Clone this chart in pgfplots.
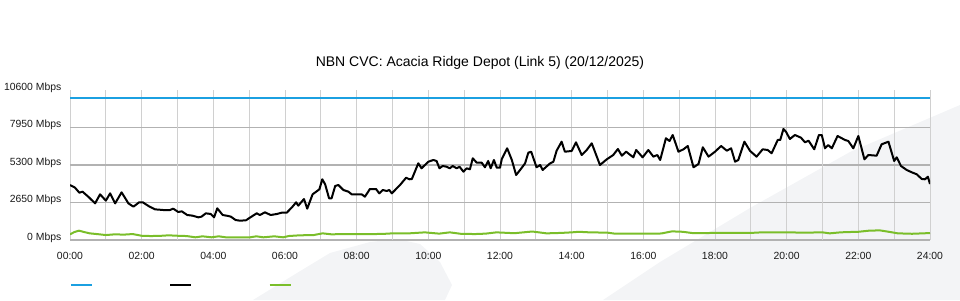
\documentclass[border=0pt]{standalone}
\usepackage{pgfplots}
\pgfplotsset{compat=1.18}
\usepackage{fontspec}
\setmainfont{Liberation Sans}
\definecolor{bluel}{RGB}{27,160,225}
\definecolor{greenl}{RGB}{122,190,42}
\definecolor{wm}{RGB}{243,244,246}
\definecolor{hgrid}{RGB}{178,178,178}
\definecolor{vgrid}{RGB}{208,208,208}
\definecolor{vgridd}{RGB}{165,165,165}

\begin{document}
\begin{tikzpicture}
\useasboundingbox (0,0) rectangle (720pt,225pt);
\begin{scope}[x=0.75pt,y=-0.75pt,yshift=225pt]
\fill[wm] (253,300) -- (297,273) -- (330,253) -- (370,242) -- (397,239) -- (420,244) -- (440,262) -- (452,285) -- (445,300) -- cycle;
\fill[wm] (603,300) -- (660,262) -- (750,208) -- (850,152) -- (960,105) -- (960,300) -- cycle;
\end{scope}
\begin{axis}[
  at={(52.5pt,45pt)}, anchor=south west,
  scale only axis, width=645pt, height=112.5pt,
  xmin=0, xmax=24, ymin=0, ymax=10600,
  scaled y ticks=false,
  axis line style={draw=none},
  xtick={0,2,...,24},
  xticklabels={00:00,02:00,04:00,06:00,08:00,10:00,12:00,14:00,16:00,18:00,20:00,22:00,24:00},
  minor xtick={1,3,...,23},
  xmajorgrids, xminorgrids,
  ytick={0,2650,5300,7950},
  yticklabels={0 Mbps,2650 Mbps,5300 Mbps,7950 Mbps},
  ymajorgrids,
  extra y ticks={10600},
  extra y tick labels={10600 Mbps},
  extra y tick style={grid=none},
  extra x ticks={3,9,15,21},
  extra x tick labels={},
  extra x tick style={grid=major, major grid style={vgridd, line width=1.2pt}},
  major tick length=0pt, minor tick length=0pt,
  x grid style={vgrid, line width=0.75pt},
  y grid style={hgrid, line width=1.3pt},
  tick label style={font=\fontsize{7.8pt}{9pt}\selectfont, text=black!90},
  yticklabel style={xshift=-3pt, yshift=2pt},
  xticklabel style={yshift=-5.5pt},
  title={NBN CVC: Acacia Ridge Depot (Link 5) (20/12/2025)},
  title style={at={(0.4767,1.1267)}, anchor=center, font=\fontsize{10.5pt}{12pt}\selectfont},
  legend columns=3,
  legend style={at={(axis description cs:0,-0.3)}, anchor=west, draw=none, fill=none,
    inner sep=0pt, outer sep=0pt, nodes={inner sep=0pt}, column sep=0pt,
    /tikz/every even column/.append style={column sep=56.25pt}},
  legend image code/.code={\draw[#1] (0pt,0pt) -- (15.75pt,0pt);},
  line join=round,
]
\addplot[bluel, line width=1.5pt] coordinates {(0,10000) (24,10000)};
\addlegendentry{\mbox{}}
\addplot[black, line width=1.5pt] coordinates {
(0,3887) (0.14,3700) (0.26,3343) (0.35,3414) (0.51,3060) (0.70,2590) (0.84,3228) (1.00,2780)
(1.12,3297) (1.26,2590) (1.44,3368) (1.63,2590) (1.77,2356) (1.93,2665) (2.03,2665) (2.19,2403)
(2.37,2167) (2.60,2120) (2.79,2120) (2.88,2214) (3.02,1979) (3.12,2026) (3.27,1767) (3.42,1720)
(3.58,1602) (3.67,1649) (3.79,1885) (3.93,1837) (4.02,1602) (4.11,2238) (4.26,1767) (4.42,1696)
(4.49,1649) (4.62,1413) (4.74,1366) (4.91,1390) (5.02,1578) (5.21,1885) (5.30,1767) (5.44,1955)
(5.60,1767) (5.77,1837) (5.91,1932) (6.05,1932) (6.21,2356) (6.31,2665) (6.37,2427) (6.53,2897)
(6.62,2214) (6.77,3228) (6.96,3581) (7.04,4290) (7.12,3935) (7.23,2946) (7.30,2946) (7.40,3816)
(7.49,3887) (7.63,3533) (7.77,3414) (7.86,3228) (8.14,3228) (8.23,3060) (8.37,3604) (8.54,3604)
(8.63,3297) (8.73,3533) (8.84,3463) (8.91,3533) (8.98,3297) (9.21,3887) (9.38,4403) (9.47,4290)
(9.54,4311) (9.72,5420) (9.81,5067) (10.0,5533) (10.14,5654) (10.23,5583) (10.31,5067) (10.40,5230)
(10.51,5180) (10.60,5067) (10.68,5230) (10.79,5067) (10.87,5180) (10.98,4827) (11.07,5067) (11.16,4996)
(11.24,5774) (11.35,5463) (11.49,5463) (11.58,5138) (11.67,5583) (11.74,5067) (11.83,5654) (11.91,5109)
(12.0,5109) (12.05,5724) (12.20,6480) (12.33,5654) (12.45,4594) (12.56,4947) (12.70,5420) (12.79,6170)
(12.87,6240) (13.02,5138) (13.12,5300) (13.19,4947) (13.40,5420) (13.49,5533) (13.58,6311) (13.72,6947)
(13.81,6240) (14.00,6290) (14.12,6904) (14.28,6007) (14.42,6360) (14.56,6834) (14.79,5300) (14.98,5703)
(15.16,6007) (15.29,6431) (15.40,5958) (15.52,6240) (15.72,5844) (15.80,6360) (15.98,5844) (16.14,6360)
(16.28,5890) (16.39,6007) (16.47,5654) (16.63,7187) (16.73,6996) (16.82,7420) (16.98,6240) (17.12,6410)
(17.24,6643) (17.40,5138) (17.54,5371) (17.66,6551) (17.82,5890) (18.0,6240) (18.17,6643) (18.33,6311)
(18.45,6480) (18.56,5533) (18.65,5654) (18.82,6947) (18.98,6290) (19.16,5890) (19.33,6410) (19.47,6360)
(19.58,6127) (19.75,7067) (19.82,7067) (19.91,7844) (19.98,7653) (20.09,7138) (20.23,7420) (20.40,7230)
(20.51,6904) (20.61,7017) (20.77,6410) (20.90,7420) (20.98,7420) (21.07,6480) (21.16,6713) (21.26,6480)
(21.42,7350) (21.63,7067) (21.72,6996) (21.86,6480) (22.0,7350) (22.17,5703) (22.28,6007) (22.51,5958)
(22.65,6763) (22.84,6947) (23.0,5583) (23.07,5844) (23.19,5230) (23.35,4947) (23.49,4784) (23.63,4643)
(23.77,4311) (23.86,4290) (23.94,4473) (24.0,3957)
};
\addlegendentry{\mbox{}}
\addplot[greenl, line width=1.5pt] coordinates {
(0,400) (0.12,560) (0.25,660) (0.4,560) (0.55,470) (0.75,420) (1.0,350) (1.25,400) (1.5,380)
(1.75,420) (2.0,300) (2.25,280) (2.5,290) (2.75,330) (3.0,300) (3.25,280) (3.5,190) (3.7,260)
(3.95,190) (4.15,260) (4.35,190) (4.6,180) (5.0,180) (5.2,260) (5.4,190) (5.7,260) (5.95,190)
(6.1,280) (6.4,330) (6.8,350) (7.05,470) (7.3,400) (7.6,420) (8.0,420) (8.5,420) (8.8,440)
(9.0,470) (9.4,460) (9.9,540) (10.3,450) (10.6,540) (10.9,440) (11.3,420) (11.6,450) (11.9,540)
(12.4,480) (12.9,600) (13.3,470) (13.7,500) (14.0,540) (14.2,580) (14.5,540) (15.0,520) (15.2,450)
(16.0,450) (16.5,460) (16.8,610) (17.1,580) (17.4,480) (18.0,500) (18.5,500) (19.0,500) (19.3,540)
(20.0,540) (20.5,520) (21.0,540) (21.2,470) (21.5,540) (21.7,560) (22.0,580) (22.3,660) (22.6,680)
(22.9,560) (23.1,470) (23.5,440) (23.8,470) (24.0,490)
};
\addlegendentry{\mbox{}}
\end{axis}
\end{tikzpicture}
\end{document}
